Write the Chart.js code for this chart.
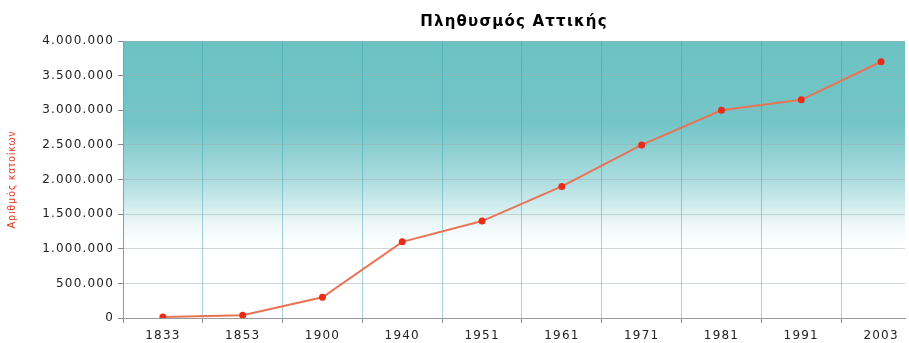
<!DOCTYPE html>
<html>
<head>
<meta charset="utf-8">
<script src="https://cdn.jsdelivr.net/npm/chart.js@4"></script>
<style>
html,body{margin:0;padding:0;background:#fff;}
#wrap{width:909px;height:343px;position:relative;}
</style>
</head>
<body>
<div id="wrap"><canvas id="c" width="909" height="343"></canvas></div>
<script>
const chartTitle = "Πληθυσμός Αττικής";
const yAxisTitle = "Αριθμός κατοίκων";
const years = ["1833","1853","1900","1940","1951","1961","1971","1981","1991","2003"];
const population = [15000, 40000, 300000, 1100000, 1400000, 1900000, 2500000, 3000000, 3150000, 3700000];
const yTicks = [0, 500000, 1000000, 1500000, 2000000, 2500000, 3000000, 3500000, 4000000];

function fmt(v){
  return String(Math.round(v)).replace(/\B(?=(\d{3})+(?!\d))/g, ".");
}

const spacingPlugin = {
  id: 'spacing',
  beforeUpdate(chart){ chart.ctx.letterSpacing = '1.2px'; },
  beforeDraw(chart){ chart.ctx.letterSpacing = '1.2px'; }
};

const bgPlugin = {
  id: 'bg',
  beforeDraw(chart){
    const {ctx, chartArea:a} = chart;
    const g = ctx.createLinearGradient(0, a.top, 0, a.bottom);
    g.addColorStop(0, 'rgb(108,194,194)');
    g.addColorStop(0.3, 'rgb(116,197,199)');
    g.addColorStop(0.5, 'rgb(172,220,223)');
    g.addColorStop(0.67, 'rgb(240,249,250)');
    g.addColorStop(0.74, 'rgb(255,255,255)');
    g.addColorStop(1, 'rgb(255,255,255)');
    ctx.save();
    ctx.fillStyle = g;
    ctx.fillRect(a.left, a.top, a.right - a.left, a.bottom - a.top);
    ctx.restore();
  }
};

new Chart(document.getElementById('c'), {
  type: 'line',
  data: {
    datasets: [{
      data: population.map((v, i) => ({x: i, y: v})),
      borderColor: 'rgb(232,115,85)',
      borderWidth: 2,
      pointBackgroundColor: 'rgb(230,45,25)',
      pointBorderWidth: 0,
      pointRadius: 3.5,
      tension: 0
    }]
  },
  plugins: [spacingPlugin, bgPlugin],
  options: {
    responsive: false,
    animation: false,
    layout: {padding: {left: 6, right: 4, top: 0, bottom: 2}},
    plugins: {
      legend: {display: false},
      tooltip: {enabled: false},
      title: {
        display: true,
        fullSize: false,
        text: chartTitle,
        color: '#000',
        font: {family: 'DejaVu Sans', size: 15, weight: 'bold'},
        padding: {top: 13, bottom: 10}
      }
    },
    scales: {
      x: {
        type: 'linear',
        min: -0.5,
        max: 9.3,
        afterBuildTicks: s => { s.ticks = years.map((_, i) => ({value: i})); },
        afterFit: s => { s.height = 23; },
        ticks: {
          autoSkip: false,
          maxRotation: 0,
          padding: 6,
          color: '#222',
          font: {family: 'DejaVu Sans', size: 12},
          callback: v => years[v]
        },
        grid: {
          offset: true,
          color: 'rgba(50,160,180,0.45)',
          lineWidth: 1,
          tickLength: 5,
          tickColor: '#888',
          drawTicks: true
        },
        border: {display: true, color: '#999', width: 1}
      },
      y: {
        min: 0,
        max: 4000000,
        afterBuildTicks: s => { s.ticks = yTicks.map(v => ({value: v})); },
        afterFit: s => { s.width = 117; },
        ticks: {
          color: '#222',
          padding: 4,
          font: {family: 'DejaVu Sans', size: 12},
          callback: v => fmt(v)
        },
        grid: {
          color: 'rgba(160,175,175,0.5)',
          lineWidth: 1,
          tickLength: 5,
          tickColor: '#888'
        },
        border: {display: true, color: '#999', width: 1},
        title: {
          display: true,
          text: yAxisTitle,
          color: '#e8301a',
          font: {family: 'Liberation Sans', size: 10},
          padding: {top: 0, bottom: 2}
        }
      }
    }
  }
});
</script>
</body>
</html>
